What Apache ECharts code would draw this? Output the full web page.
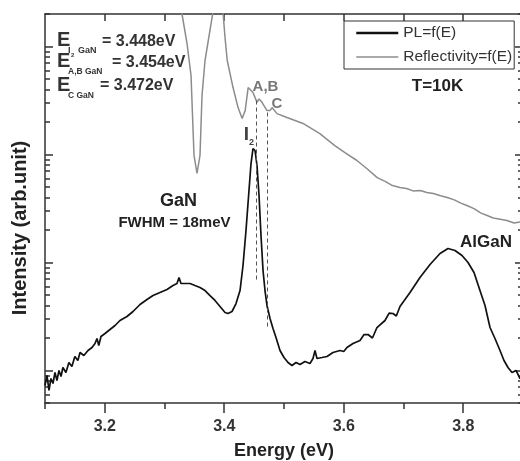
<!DOCTYPE html>
<html>
<head>
<meta charset="utf-8">
<script src="https://cdn.jsdelivr.net/npm/echarts@6/dist/echarts.min.js"></script>
<style>html,body{margin:0;padding:0;background:#fff;}#c{width:520px;height:461px;}</style>
</head>
<body>
<div id="c"></div>
<script>
// ---- data (energy in eV, intensity in arb. units, log scale) ----
const plEnergy = [3.100,3.1033,3.1067,3.110,3.1134,3.1167,3.120,3.1234,3.1268,3.130,3.135,3.140,3.145,3.150,3.155,3.1586,3.165,3.172,3.1787,3.1837,3.187,3.190,3.1937,3.2004,3.2088,3.2172,3.2255,3.2372,3.2473,3.259,3.2707,3.2808,3.2925,3.3042,3.3142,3.3209,3.3243,3.3276,3.336,3.3427,3.351,3.3594,3.3678,3.3762,3.3845,3.3929,3.4013,3.4063,3.413,3.4197,3.4264,3.4314,3.4364,3.4414,3.4448,3.4481,3.4515,3.4548,3.4582,3.4615,3.4649,3.4682,3.4715,3.4766,3.4816,3.4866,3.4933,3.500,3.5067,3.5134,3.5201,3.5268,3.5351,3.5435,3.5485,3.5519,3.5552,3.5636,3.572,3.582,3.5937,3.600,3.6054,3.6155,3.6272,3.634,3.6406,3.648,3.6556,3.669,3.676,3.6824,3.688,3.6941,3.7109,3.7276,3.7444,3.7611,3.7745,3.7862,3.7979,3.808,3.818,3.828,3.8364,3.8448,3.8531,3.8615,3.8682,3.8749,3.8816,3.8883,3.895,3.900];
const plIntensity = [0.726,0.90,0.653,0.843,0.758,0.958,0.808,1.0,0.88,1.066,0.958,1.186,1.089,1.348,1.238,1.468,1.377,1.531,1.633,1.778,1.978,1.704,2.063,2.201,2.397,2.611,2.904,3.162,3.518,4.083,4.541,4.943,5.275,5.623,6.124,6.39,7.26,6.39,6.39,6.39,6.124,5.87,5.50,4.943,4.45,3.915,3.444,3.37,3.518,4.17,5.50,9.38,19.8,46.4,82.5,113.6,108.9,79.1,41.7,17.8,8.43,5.50,4.0,3.03,2.448,2.021,1.531,1.319,1.186,1.113,1.186,1.136,1.211,1.161,1.291,1.531,1.291,1.319,1.348,1.468,1.531,1.50,1.633,1.778,1.896,2.15,2.154,2.0,2.50,2.904,3.4,3.37,3.2,3.915,5.275,7.26,9.58,12.11,13.49,12.92,11.61,10.0,8.08,5.50,4.0,2.50,1.978,1.531,1.238,1.066,0.958,1.0,0.843,0.88];

const reflEnergy = [3.327,3.3293,3.3377,3.3444,3.3494,3.3544,3.3594,3.3628,3.3678,3.3812,3.385,3.390,3.3965,3.4013,3.405,3.4147,3.4231,3.430,3.435,3.440,3.4481,3.4548,3.4582,3.4632,3.4715,3.4766,3.480,3.4883,3.505,3.5318,3.560,3.585,3.602,3.622,3.640,3.656,3.670,3.680,3.694,3.705,3.716,3.728,3.739,3.750,3.762,3.773,3.785,3.796,3.806,3.818,3.829,3.840,3.850,3.862,3.873,3.885,3.900];
const reflIntensity = [3000,2000,1066,539,97.9,66.7,97.9,352,742,2100,4000,6000,2600,1211,742,417,272,215,255,417,375,304,327,304,255,255,272,239,220,194,156,121,104,88,73,61,56,52,49.5,48.5,46,46.5,44.5,43.5,41.5,40,38,35.5,33.7,31.5,28.8,27.2,25.8,25.2,24.5,23.2,24];

// dashed exciton markers
const dashEnergy = [3.454, 3.472];
const dashTop = [316, 245];
const dashBottom = [6.8, 2.5];

// axis ticks
const xMin = 3.1, xMax = 3.9;
const xMajorTicks = [3.2, 3.4, 3.6, 3.8];
const xMinorTicks = [3.1, 3.3, 3.5, 3.7, 3.9];
const xTopTicks = [3.2, 3.3, 3.4, 3.5, 3.6, 3.7, 3.8];
const yMin = 0.5, yMax = 2000;
const yMajorTicks = [1, 10, 100, 1000];
const yMinorTicks = [0.5,0.6,0.7,0.8,0.9,2,3,4,5,6,7,8,9,20,30,40,50,60,70,80,90,200,300,400,500,600,700,800,900,2000];

const FONT = '"Liberation Sans", Arial, Helvetica, sans-serif';
const chart = echarts.init(document.getElementById('c'), null, {renderer: 'canvas'});

const axisLineStyle = {show: true, lineStyle: {color: '#333', width: 1.5}};
function xAx(extra) {
  return Object.assign({
    type: 'value', min: xMin, max: xMax, gridIndex: 0,
    splitLine: {show: false}, axisLine: {show: false},
    axisLabel: {show: false}, axisTick: {show: false}
  }, extra);
}
function yAx(extra) {
  return Object.assign({
    type: 'log', logBase: 10, min: yMin, max: yMax, gridIndex: 0,
    splitLine: {show: false}, axisLine: {show: false},
    axisLabel: {show: false}, axisTick: {show: false}
  }, extra);
}

const option = {
  backgroundColor: '#fff',
  animation: false,
  grid: {left: 45, top: 14, right: -3, bottom: 58, containLabel: false, outerBoundsMode: 'none'},
  legend: {
    orient: 'vertical', left: 344, top: 21,
    padding: [4, 2, 4, 11], itemGap: 8, itemWidth: 42, itemHeight: 14,
    borderColor: '#333', borderWidth: 1, backgroundColor: '#fff',
    itemStyle: {opacity: 0},
    textStyle: {fontFamily: FONT, fontSize: 15.5, color: '#333'},
    data: [
      {name: 'PL=f(E)', lineStyle: {width: 2.5, color: '#111'}},
      {name: 'Reflectivity=f(E)', lineStyle: {width: 1.5, color: '#8c8c8c'}}
    ]
  },
  xAxis: [
    xAx({position: 'bottom', axisLine: axisLineStyle,
      axisTick: {show: true, inside: false, length: 10, customValues: xMajorTicks, lineStyle: {color: '#333', width: 1.5}},
      axisLabel: {show: true, customValues: xMajorTicks, margin: 16, fontFamily: FONT, fontSize: 16, fontWeight: 'bold', color: '#333',
        formatter: v => v.toFixed(1)},
      name: 'Energy (eV)', nameLocation: 'middle', nameGap: 39,
      nameTextStyle: {fontFamily: FONT, fontSize: 18, fontWeight: 'bold', color: '#222'}}),
    xAx({position: 'bottom',
      axisTick: {show: true, inside: false, length: 6, customValues: xMinorTicks, lineStyle: {color: '#333', width: 1.5}}}),
    xAx({position: 'top', axisLine: axisLineStyle,
      axisTick: {show: true, inside: true, length: 7, customValues: xTopTicks, lineStyle: {color: '#333', width: 1.5}}})
  ],
  yAxis: [
    yAx({position: 'left', axisLine: axisLineStyle,
      axisTick: {show: true, inside: true, length: 8, customValues: yMajorTicks, lineStyle: {color: '#333', width: 1.5}}}),
    yAx({position: 'left',
      axisTick: {show: true, inside: true, length: 5, customValues: yMinorTicks, lineStyle: {color: '#333', width: 1.5}}}),
    yAx({position: 'right', axisLine: axisLineStyle,
      axisTick: {show: true, inside: true, length: 8, customValues: yMajorTicks, lineStyle: {color: '#333', width: 1.5}}}),
    yAx({position: 'right',
      axisTick: {show: true, inside: true, length: 5, customValues: yMinorTicks, lineStyle: {color: '#333', width: 1.5}}})
  ],
  series: [
    {
      name: 'Reflectivity=f(E)', type: 'line', xAxisIndex: 0, yAxisIndex: 0,
      symbol: 'none', clip: true, smooth: false,
      lineStyle: {color: '#8c8c8c', width: 1.5}, itemStyle: {color: '#8c8c8c'},
      data: reflEnergy.map((e, i) => [e, reflIntensity[i]]),
      markLine: {
        silent: true, symbol: ['none', 'none'], label: {show: false},
        lineStyle: {color: '#555', type: [4, 3], width: 1},
        data: dashEnergy.map((e, i) => [{coord: [e, dashTop[i]]}, {coord: [e, dashBottom[i]]}])
      }
    },
    {
      name: 'PL=f(E)', type: 'line', xAxisIndex: 0, yAxisIndex: 0,
      symbol: 'none', clip: true,
      lineStyle: {color: '#111', width: 1.7}, itemStyle: {color: '#111'},
      data: plEnergy.map((e, i) => [e, plIntensity[i]])
    }
  ],
  graphic: {elements: [
    {type: 'text', x: 20, y: 228, rotation: Math.PI / 2,
      style: {text: 'Intensity (arb.unit)', fill: '#222', font: 'bold 20px ' + FONT, align: 'center', verticalAlign: 'middle', textAlign: 'center', textVerticalAlign: 'middle'}},
    // E labels
    {type: 'text', x: 57, y: 40, style: {text: 'E', fill: '#333', font: 'bold 20px ' + FONT, verticalAlign: 'middle', textVerticalAlign: 'middle'}},
    {type: 'text', x: 68, y: 51, style: {text: 'I', fill: '#333', font: 'bold 9px ' + FONT, verticalAlign: 'middle', textVerticalAlign: 'middle'}},
    {type: 'text', x: 71, y: 55, style: {text: '2', fill: '#333', font: 'bold 6px ' + FONT, verticalAlign: 'middle', textVerticalAlign: 'middle'}},
    {type: 'text', x: 78, y: 51, style: {text: 'GaN', fill: '#333', font: 'bold 9px ' + FONT, verticalAlign: 'middle', textVerticalAlign: 'middle'}},
    {type: 'text', x: 102, y: 42, style: {text: '= 3.448eV', fill: '#333', font: 'bold 16px ' + FONT, verticalAlign: 'middle', textVerticalAlign: 'middle'}},
    {type: 'text', x: 57, y: 61, style: {text: 'E', fill: '#333', font: 'bold 20px ' + FONT, verticalAlign: 'middle', textVerticalAlign: 'middle'}},
    {type: 'text', x: 68, y: 72, style: {text: 'A,B GaN', fill: '#333', font: 'bold 8.5px ' + FONT, verticalAlign: 'middle', textVerticalAlign: 'middle'}},
    {type: 'text', x: 112, y: 63, style: {text: '= 3.454eV', fill: '#333', font: 'bold 16px ' + FONT, verticalAlign: 'middle', textVerticalAlign: 'middle'}},
    {type: 'text', x: 57, y: 85, style: {text: 'E', fill: '#333', font: 'bold 20px ' + FONT, verticalAlign: 'middle', textVerticalAlign: 'middle'}},
    {type: 'text', x: 68, y: 96, style: {text: 'C GaN', fill: '#333', font: 'bold 8.5px ' + FONT, verticalAlign: 'middle', textVerticalAlign: 'middle'}},
    {type: 'text', x: 100, y: 86, style: {text: '= 3.472eV', fill: '#333', font: 'bold 16px ' + FONT, verticalAlign: 'middle', textVerticalAlign: 'middle'}},
    // peak labels
    {type: 'text', x: 265.5, y: 87, style: {text: 'A,B', fill: '#777', font: 'bold 15px ' + FONT, align: 'center', verticalAlign: 'middle', textAlign: 'center', textVerticalAlign: 'middle'}},
    {type: 'text', x: 277, y: 103.5, style: {text: 'C', fill: '#777', font: 'bold 15px ' + FONT, align: 'center', verticalAlign: 'middle', textAlign: 'center', textVerticalAlign: 'middle'}},
    {type: 'text', x: 246.5, y: 135, style: {text: 'I', fill: '#444', font: 'bold 19px ' + FONT, align: 'center', verticalAlign: 'middle', textAlign: 'center', textVerticalAlign: 'middle'}},
    {type: 'text', x: 251.5, y: 143, style: {text: '2', fill: '#444', font: 'bold 9px ' + FONT, align: 'center', verticalAlign: 'middle', textAlign: 'center', textVerticalAlign: 'middle'}},
    {type: 'text', x: 178.5, y: 201, style: {text: 'GaN', fill: '#222', font: 'bold 18px ' + FONT, align: 'center', verticalAlign: 'middle', textAlign: 'center', textVerticalAlign: 'middle'}},
    {type: 'text', x: 174.5, y: 223, style: {text: 'FWHM = 18meV', fill: '#222', font: 'bold 15px ' + FONT, align: 'center', verticalAlign: 'middle', textAlign: 'center', textVerticalAlign: 'middle'}},
    {type: 'text', x: 486, y: 242, style: {text: 'AlGaN', fill: '#222', font: 'bold 17px ' + FONT, align: 'center', verticalAlign: 'middle', textAlign: 'center', textVerticalAlign: 'middle'}},
    {type: 'text', x: 437.5, y: 86.5, style: {text: 'T=10K', fill: '#222', font: 'bold 17px ' + FONT, align: 'center', verticalAlign: 'middle', textAlign: 'center', textVerticalAlign: 'middle'}}
  ]}
};
chart.setOption(option);
</script>
</body>
</html>
